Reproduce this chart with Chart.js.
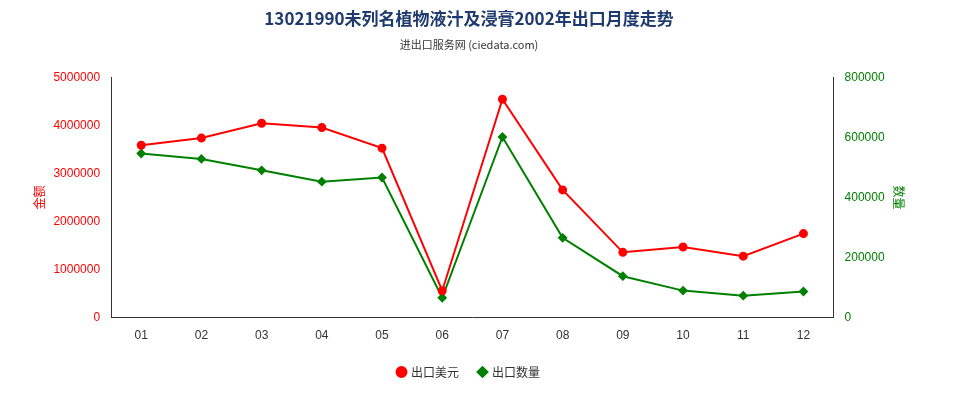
<!DOCTYPE html>
<html>
<head>
<meta charset="utf-8">
<script src="https://cdn.jsdelivr.net/npm/chart.js@4"></script>
<style>
body { margin: 0; background: #fff; }
#wrap { width: 960px; height: 400px; position: relative; }
</style>
</head>
<body>
<div id="wrap"><canvas id="myChart" width="960" height="400"></canvas></div>
<script>
const months = ["01", "02", "03", "04", "05", "06", "07", "08", "09", "10", "11", "12"]
const usdValues = [3590000, 3740000, 4050000, 3960000, 3530000, 560000, 4550000, 2660000, 1360000, 1470000, 1280000, 1750000]
const qtyValues = [547000, 529000, 491000, 453000, 467000, 66000, 602000, 266000, 138000, 90000, 73000, 87000]

const font = "'Noto Sans CJK SC', 'DejaVu Sans', sans-serif"
const plain = v => String(v)

new Chart("myChart", {
  type: "line",
  data: {
    labels: months,
    datasets: [
      { label: "出口美元", data: usdValues, borderColor: "#ff0000", backgroundColor: "#ff0000",
        pointStyle: "circle", pointRadius: 3.5, borderWidth: 2, yAxisID: "y" },
      { label: "出口数量", data: qtyValues, borderColor: "#008000", backgroundColor: "#008000",
        pointStyle: "rectRot", pointRadius: 3.5, borderWidth: 2, yAxisID: "y1" }
    ]
  },
  options: {
    responsive: false,
    animation: false,
    layout: { padding: { left: 28, right: 50, top: 0, bottom: 12 } },
    plugins: {
      title: { display: true, text: "13021990未列名植物液汁及浸膏2002年出口月度走势",
        color: "#1f3a6e", font: { family: font, size: 17, weight: "bold" }, padding: { top: 8, bottom: 10 } },
      subtitle: { display: true, text: "进出口服务网 (ciedata.com)", color: "#333",
        font: { family: font, size: 11 }, padding: { bottom: 26 } },
      legend: { position: "bottom", labels: { usePointStyle: true, boxWidth: 7, boxHeight: 7, padding: 20,
        font: { family: font, size: 12 }, color: "#333" } }
    },
    scales: {
      x: { offset: true, grid: { display: false }, border: { color: "#333" },
        ticks: { color: "#333", font: { size: 12 } } },
      y: { position: "left", min: 0, max: 5000000, border: { color: "#333" },
        ticks: { stepSize: 1000000, color: "#ff0000", font: { size: 12 }, callback: plain },
        grid: { display: false },
        title: { display: true, text: "金额", color: "#ff0000", font: { family: font, size: 12 } } },
      y1: { position: "right", min: 0, max: 800000, border: { color: "#333" },
        ticks: { stepSize: 200000, color: "#008000", font: { size: 12 }, callback: plain },
        grid: { display: false },
        title: { display: true, text: "数量", color: "#008000", font: { family: font, size: 12 } } }
    }
  }
})
</script>
</body>
</html>
